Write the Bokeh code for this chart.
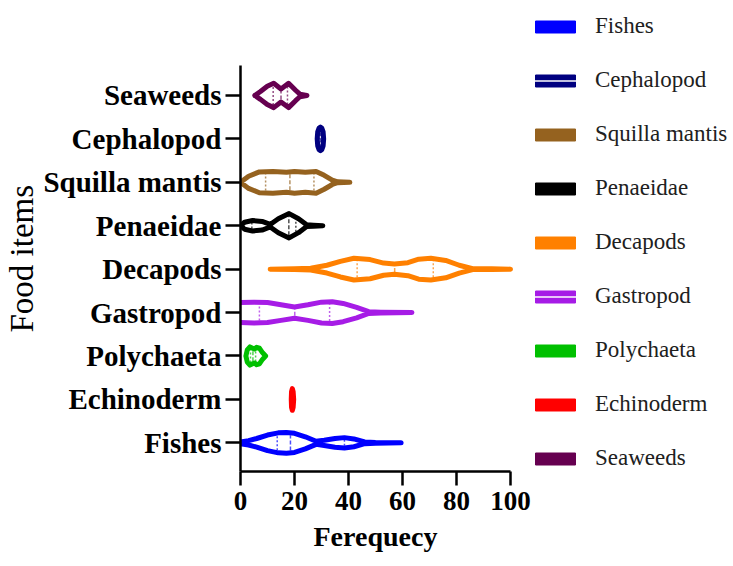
import numpy as np
from bokeh.plotting import figure
from bokeh.models import Range1d, FixedTicker, Legend, LegendItem, Title
from bokeh.embed import file_html
from bokeh.resources import INLINE

# ---------------- data ----------------
categories = ["Fishes", "Echinoderm", "Polychaeta", "Gastropod", "Decapods",
              "Penaeidae", "Squilla mantis", "Cephalopod", "Seaweeds"]
x_ticks = [0, 20, 40, 60, 80, 100]

# violin profiles: frequency values and density half-widths (category units)
fishes_x = [0, 3, 6, 10, 14, 17, 20, 24, 28, 31, 35, 38.5, 42, 46, 50, 59.5]
fishes_w = [0.02, 0.05, 0.10, 0.18, 0.23, 0.24, 0.22, 0.14, 0.035, 0.06, 0.10, 0.12, 0.09, 0.02, 0.01, 0.0]

echinoderm_x = [18.8, 18.9, 19.2, 19.5, 19.7]
echinoderm_w = [0.0, 0.18, 0.25, 0.18, 0.0]

polychaeta_x = [2, 2.5, 3.5, 4.5, 5.2, 6, 7, 8, 9.3]
polychaeta_w = [0.0, 0.14, 0.21, 0.18, 0.16, 0.20, 0.18, 0.09, 0.0]

gastropod_x = [0, 5, 10, 15, 20, 25, 30, 34, 38, 43, 47.5, 52, 63.5]
gastropod_w = [0.23, 0.24, 0.23, 0.18, 0.13, 0.18, 0.24, 0.25, 0.21, 0.12, 0.02, 0.01, 0.0]

decapods_x = [11, 20, 26, 32, 37, 42, 48, 53, 57, 62, 66, 70.5, 76, 81, 86, 93, 100]
decapods_w = [0.0, 0.01, 0.02, 0.09, 0.18, 0.25, 0.22, 0.14, 0.12, 0.15, 0.23, 0.25, 0.20, 0.09, 0.01, 0.01, 0.0]

penaeidae_x = [0, 1.5, 4.5, 8, 11, 14, 18, 21.5, 24.5, 27, 30.5]
penaeidae_w = [0.0, 0.08, 0.12, 0.10, 0.03, 0.16, 0.28, 0.16, 0.02, 0.01, 0.0]

squilla_x = [0, 3, 7, 12, 17, 20, 24, 28, 31, 34, 36, 40.5]
squilla_w = [0.0, 0.14, 0.24, 0.25, 0.23, 0.25, 0.23, 0.25, 0.16, 0.05, 0.01, 0.0]

cephalopod_x = [28.4, 28.6, 29.1, 29.6, 30.1, 30.6, 30.8]
cephalopod_w = [0.0, 0.16, 0.25, 0.27, 0.25, 0.16, 0.0]

seaweeds_x = [5.3, 7.4, 9.9, 12.3, 15, 17.8, 20.4, 22, 24.6]
seaweeds_w = [0.0, 0.09, 0.21, 0.28, 0.15, 0.28, 0.12, 0.03, 0.0]

# quartiles (Q1, median, Q3) per category, same order as categories
q1 =     [13.6, 19.0, 3.7, 7.0, 43.2, 4.2, 9.3, 29.2, 12.1]
median = [18.5, 19.2, 4.6, 20.1, 57.1, 17.9, 18.3, 29.6, 15.0]
q3 =     [38.5, 19.4, 5.6, 33.0, 71.4, 20.5, 27.2, 30.0, 17.4]

colors = ["#0000FF", "#FF0000", "#00C000", "#A61CE6", "#FF8000",
          "#000000", "#95621F", "#000080", "#660050"]

legend_order = ["Fishes", "Cephalopod", "Squilla mantis", "Penaeidae", "Decapods",
                "Gastropod", "Polychaeta", "Echinoderm", "Seaweeds"]
legend_inner_line = ["Cephalopod", "Gastropod"]

profiles_x = [fishes_x, echinoderm_x, polychaeta_x, gastropod_x, decapods_x,
              penaeidae_x, squilla_x, cephalopod_x, seaweeds_x]
profiles_w = [fishes_w, echinoderm_w, polychaeta_w, gastropod_w, decapods_w,
              penaeidae_w, squilla_w, cephalopod_w, seaweeds_w]

x_lo, x_hi = 0, 100
y_lo, y_hi = 0.34, 9.69

# ---------------- figure ----------------
# The frame extends to the right and top edges so the legend stays inside the
# drawing area; the axis lines themselves are bounded to the data ranges.
W, H = 733, 566
left_b, bottom_b = 240, 95
px_per_x = 270 / (x_hi - x_lo)
px_per_y = 406 / (y_hi - y_lo)
x_end = x_lo + (W - left_b) / px_per_x
y_end = y_lo + (H - bottom_b) / px_per_y

p = figure(width=W, height=H,
           x_range=Range1d(x_lo, x_end), y_range=Range1d(y_lo, y_end),
           min_border_left=left_b, min_border_right=0,
           min_border_top=0, min_border_bottom=bottom_b,
           output_backend="svg", toolbar_location=None)
p.outline_line_color = None
p.xgrid.grid_line_color = None
p.ygrid.grid_line_color = None
p.background_fill_color = "white"
p.border_fill_color = "white"

for i, name in enumerate(categories):
    pos = i + 1
    xs = np.array(profiles_x[i], dtype=float)
    ws = np.array(profiles_w[i], dtype=float)
    c = colors[i]
    px = list(xs) + list(xs[::-1])
    py = list(pos + ws) + list((pos - ws)[::-1])
    p.line(px, py, line_color=c, line_width=5, line_join="round", line_cap="round")
    for q, dash in ((q1[i], "2 2"), (median[i], "4 2"), (q3[i], "2 2")):
        h = float(np.interp(q, xs, ws)) - 0.055
        if h > 0.02:
            p.segment(x0=[q], y0=[pos - h], x1=[q], y1=[pos + h],
                      line_color=c, line_width=1.5, line_alpha=0.7, line_dash=dash)

# ---------------- axes ----------------
p.xaxis.ticker = FixedTicker(ticks=x_ticks)
p.xaxis.bounds = (x_lo, x_hi)
p.yaxis.ticker = FixedTicker(ticks=list(range(1, len(categories) + 1)))
p.yaxis.bounds = (y_lo, y_hi)
p.yaxis.major_label_overrides = {i + 1: n for i, n in enumerate(categories)}

for ax in (p.xaxis[0], p.yaxis[0]):
    ax.axis_line_width = 2.5
    ax.axis_line_color = "black"
    ax.major_tick_line_width = 2.5
    ax.major_tick_line_color = "black"
    ax.major_tick_out = 15
    ax.major_tick_in = 0
    ax.minor_tick_line_color = None
    ax.major_label_text_font = "Liberation Serif"
    ax.major_label_text_font_style = "bold"
    ax.major_label_text_color = "black"

p.xaxis.major_tick_out = 14
p.xaxis.major_label_text_font_size = "27px"
p.yaxis.major_label_text_font_size = "29px"
p.xaxis.major_label_standoff = 6
p.yaxis.major_label_standoff = 4

# axis titles as panel titles, positioned on the bounded axes
xtitle = Title(text="Ferequecy", align="left", offset=73, standoff=13,
               text_font="Liberation Serif", text_font_style="bold",
               text_font_size="28px", text_color="black")
p.add_layout(xtitle, "below")

ytitle = Title(text="Food items", align="left", offset=139, standoff=2,
               text_font="Liberation Serif", text_font_style="normal",
               text_font_size="33px", text_color="black")
p.add_layout(ytitle, "left")

# ---------------- legend ----------------
items = []
for name in legend_order:
    c = colors[categories.index(name)]
    r = p.quad(left=[-30], right=[-20], top=[-5], bottom=[-6],
               fill_color=c, line_color=c, line_width=1)
    rs = [r]
    if name in legend_inner_line:
        rl = p.line(x=[-30, -20], y=[-5, -5], line_color="white", line_width=1.5)
        rs.append(rl)
    items.append(LegendItem(label=name, renderers=rs))

legend = Legend(items=items, location=(290, 0), orientation="vertical",
                glyph_width=50, glyph_height=15, label_standoff=15,
                spacing=28, padding=0, margin=0, label_height=20,
                border_line_color=None, background_fill_alpha=0,
                label_text_font="Liberation Serif", label_text_font_size="23px",
                label_text_color="#202020")
p.add_layout(legend)

open("out.html", "w").write(file_html(p, INLINE))
